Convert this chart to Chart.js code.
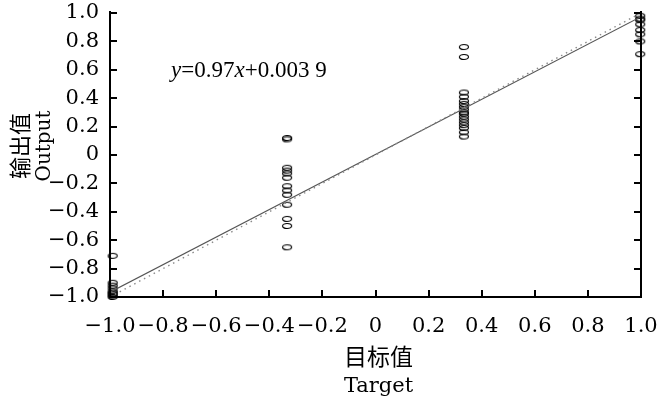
<!DOCTYPE html>
<html>
<head>
<meta charset="utf-8">
<script src="https://cdn.jsdelivr.net/npm/chart.js@4/dist/chart.umd.min.js"></script>
<style>
html,body{margin:0;padding:0;background:#fff;}
#wrap{width:669px;height:399px;}
</style>
</head>
<body>
<div id="wrap"><canvas id="c" width="669" height="399"></canvas></div>
<script>
// ---- data ----
const tickValues = [-1, -0.8, -0.6, -0.4, -0.2, 0, 0.2, 0.4, 0.6, 0.8, 1];
const tickLabels = ['\u22121.0','\u22120.8','\u22120.6','\u22120.4','\u22120.2','0','0.2','0.4','0.6','0.8','1.0'];
const targetLevels = [-0.99, -0.333, 0.333, 0.997];
const outputsAtM1  = [-0.71, -0.90, -0.92, -0.94, -0.96, -0.97, -0.98, -0.99, -1.0];
const outputsAtM033 = [0.12, 0.11, -0.09, -0.11, -0.13, -0.16, -0.22, -0.25, -0.28, -0.35, -0.45, -0.50, -0.65];
const outputsAtP033 = [0.76, 0.69, 0.44, 0.41, 0.38, 0.36, 0.34, 0.32, 0.30, 0.29, 0.27, 0.25, 0.23, 0.21, 0.19, 0.16, 0.13];
const outputsAtP1  = [0.98, 0.96, 0.95, 0.92, 0.88, 0.85, 0.80, 0.71];
const fitX = [-1, 1];
const fitY = [-0.966, 0.974];
const idealX = [-1, 1];
const idealY = [-1, 1];
const equationText = ['y', '=0.97', 'x', '+0.003 9'];
const xTitle = ['目标值', 'Target'];
const yTitle = ['输出值', 'Output'];

// ---- build ----
const groups = [outputsAtM1, outputsAtM033, outputsAtP033, outputsAtP1];
const pts = [];
groups.forEach((g, i) => g.forEach(v => pts.push({x: targetLevels[i], y: v})));

// ellipse marker
const mk = document.createElement('canvas');
mk.width = 12; mk.height = 8;
{
  const m = mk.getContext('2d');
  m.strokeStyle = '#000';
  m.lineWidth = 1.2;
  m.beginPath();
  m.ellipse(6, 4, 4.5, 2.5, 0, 0, Math.PI * 2);
  m.stroke();
}

const CJK = '"Noto Sans CJK SC"';
const SERIF = '"DejaVu Serif"';

const framePlugin = {
  id: 'frame',
  afterDraw(chart) {
    const ctx = chart.ctx;
    const a = chart.chartArea;
    const xs = chart.scales.x, ys = chart.scales.y;
    ctx.save();
    ctx.setLineDash([]);
    ctx.globalAlpha = 1;
    ctx.fillStyle = '#000';
    const L = Math.round(a.left), R = Math.round(a.right), T = Math.round(a.top), B = Math.round(a.bottom);
    ctx.fillRect(L - 1, T - 2, 2, B - T + 3);
    ctx.fillRect(R - 1, T - 2, 2, B - T + 3);
    ctx.fillRect(L - 1, B - 1, R - L + 2, 2);
    tickValues.forEach(v => {
      const px = Math.round(xs.getPixelForValue(v));
      ctx.fillRect(px - 1, B - 7, 2, 7);
      const py = Math.round(ys.getPixelForValue(v));
      ctx.fillRect(L, py - 1, 7, 2);
      ctx.fillRect(R - 7, py - 1, 7, 2);
    });
    // equation
    let x = xs.getPixelForValue(-0.77);
    const y = ys.getPixelForValue(0.595);
    ctx.textBaseline = 'middle';
    ctx.textAlign = 'left';
    equationText.forEach((t, i) => {
      ctx.font = (i % 2 === 0 ? 'italic ' : '') + '23px "Liberation Serif"';
      ctx.fillText(t, x, y);
      x += ctx.measureText(t).width;
    });
    // x title
    const cx = (a.left + a.right) / 2 + 3;
    ctx.textAlign = 'center';
    ctx.font = '23px ' + CJK;
    ctx.fillText(xTitle[0], cx, 356);
    ctx.textBaseline = 'alphabetic';
    ctx.font = '21px ' + SERIF;
    ctx.fillText(xTitle[1], cx, 392);
    // y title
    const cy = 146;
    ctx.save();
    ctx.translate(20, cy);
    ctx.rotate(-Math.PI / 2);
    ctx.textBaseline = 'middle';
    ctx.font = '22px ' + CJK;
    ctx.fillText(yTitle[0], 0, 0);
    ctx.restore();
    ctx.save();
    ctx.translate(50, cy);
    ctx.rotate(-Math.PI / 2);
    ctx.textBaseline = 'alphabetic';
    ctx.font = '20px ' + SERIF;
    ctx.fillText(yTitle[1], 0, 0);
    ctx.restore();
    ctx.restore();
  }
};

new Chart(document.getElementById('c'), {
  type: 'scatter',
  data: {
    datasets: [
      {
        type: 'line',
        data: idealX.map((x, i) => ({x, y: idealY[i]})),
        borderColor: '#8a8a8a',
        borderWidth: 1.4,
        borderDash: [1.5, 4],
        pointRadius: 0,
        fill: false
      },
      {
        type: 'line',
        data: fitX.map((x, i) => ({x, y: fitY[i]})),
        borderColor: '#555',
        borderWidth: 1.2,
        pointRadius: 0,
        fill: false
      },
      {
        data: pts,
        pointStyle: mk,
        pointRadius: 4,
        clip: false,
        backgroundColor: 'rgba(0,0,0,0)',
        borderColor: '#000'
      }
    ]
  },
  options: {
    responsive: false,
    animation: false,
    events: [],
    layout: {padding: {top: 2, right: 28, left: 0, bottom: 0}},
    plugins: {legend: {display: false}, tooltip: {enabled: false}},
    scales: {
      x: {
        type: 'linear', min: -1, max: 1,
        afterBuildTicks: s => { s.ticks = tickValues.map(v => ({value: v})); },
        grid: {display: false},
        border: {display: false},
        ticks: {
          color: '#000', padding: 9, maxRotation: 0, autoSkip: false,
          font: {family: SERIF, size: 21},
          callback: (v) => tickLabels[tickValues.indexOf(v)]
        },
        title: {display: false},
        afterFit: s => { s.height = 102; }
      },
      y: {
        type: 'linear', min: -1, max: 1,
        afterBuildTicks: s => { s.ticks = tickValues.map(v => ({value: v})); },
        grid: {display: false},
        border: {display: false},
        ticks: {
          color: '#000', padding: 3, autoSkip: false,
          font: {family: SERIF, size: 21, lineHeight: 0.95},
          callback: (v) => tickLabels[tickValues.indexOf(v)]
        },
        title: {display: false},
        afterFit: s => { s.width = 110; }
      }
    }
  },
  plugins: [framePlugin]
});
</script>
</body>
</html>
